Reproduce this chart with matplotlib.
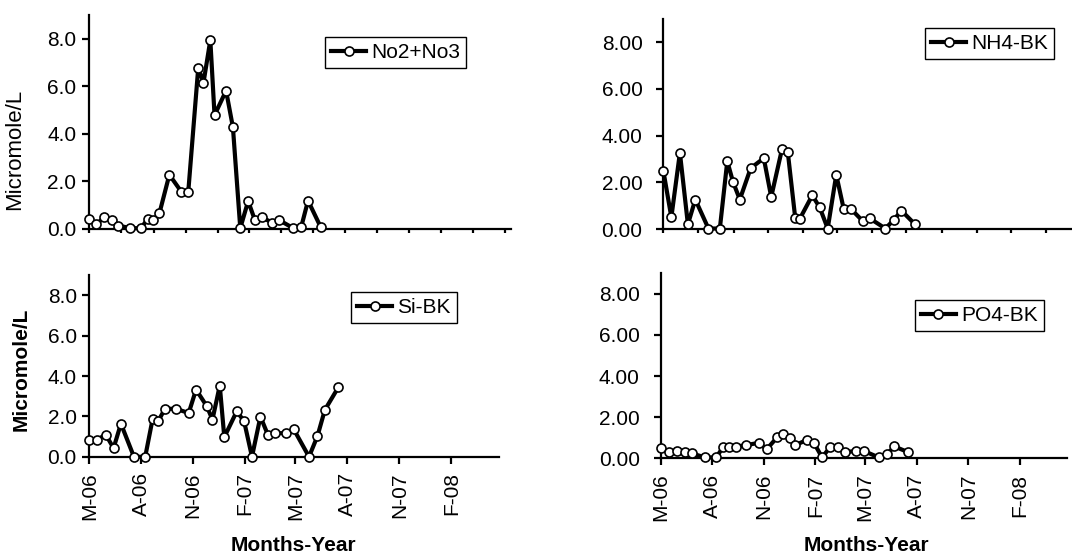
import numpy as np
import matplotlib
matplotlib.use('Agg')
import matplotlib.pyplot as plt
import matplotlib.dates as mdates
from matplotlib.ticker import FormatStrFormatter, FuncFormatter

# sampling dates (roughly every two weeks)
dates = np.array(['2006-05-01', '2006-05-15', '2006-05-30', '2006-06-13', '2006-06-26',
                  '2006-07-19', '2006-08-08', '2006-08-21', '2006-08-31', '2006-09-12',
                  '2006-10-01', '2006-10-24', '2006-11-06', '2006-11-25', '2006-12-05',
                  '2006-12-18', '2006-12-26', '2007-01-17', '2007-01-30', '2007-02-13',
                  '2007-02-28', '2007-03-13', '2007-03-26', '2007-04-15', '2007-04-28',
                  '2007-05-25', '2007-06-09', '2007-06-22', '2007-07-16'], dtype='datetime64[D]')

no2_no3 = [0.41, 0.18, 0.48, 0.36, 0.13, 0.02, 0.02, 0.42, 0.35, 0.64,
           2.27, 1.55, 1.55, 6.78, 6.15, 7.94, 4.78, 5.81, 4.27, 0.02,
           1.16, 0.35, 0.48, 0.25, 0.36, 0.02, 0.07, 1.18, 0.07]
nh4 = [2.50, 0.51, 3.27, 0.21, 1.27, 0.03, 0.03, 2.91, 2.03, 1.27,
       2.61, 3.04, 1.38, 3.44, 3.31, 0.50, 0.44, 1.45, 0.93, 0.03,
       2.33, 0.87, 0.86, 0.36, 0.46, 0.03, 0.40, 0.80, 0.21]
si = [0.84, 0.84, 1.10, 0.43, 1.64, 0.00, 0.00, 1.86, 1.77, 2.38,
      2.38, 2.17, 3.33, 2.51, 1.84, 3.53, 0.97, 2.25, 1.77, 0.00,
      1.99, 1.10, 1.17, 1.17, 1.36, 0.00, 1.03, 2.32, 3.45]
po4 = [0.50, 0.31, 0.36, 0.29, 0.24, 0.05, 0.05, 0.57, 0.57, 0.57,
       0.65, 0.76, 0.44, 1.03, 1.18, 0.97, 0.63, 0.90, 0.73, 0.05,
       0.57, 0.57, 0.31, 0.36, 0.37, 0.05, 0.21, 0.58, 0.31]

plt.rcParams['font.family'] = ['Liberation Sans', 'DejaVu Sans']
plt.rcParams['font.size'] = 15

fig = plt.figure(figsize=(10.72, 5.55), dpi=100)

# axes positions in figure fractions (top panels run wider, right ones clipped by edge)
ax_no3 = fig.add_axes([0.0830, 0.588, 0.394, 0.385])
ax_nh4 = fig.add_axes([0.6188, 0.587, 0.428, 0.379])
ax_si = fig.add_axes([0.0833, 0.177, 0.382, 0.327])
ax_po4 = fig.add_axes([0.6163, 0.174, 0.379, 0.334])

top_end = np.datetime64('2008-07-13')
bot_end = np.datetime64('2008-04-25')
start = np.datetime64('2006-05-01')


def month_label(x, pos):
    d = mdates.num2date(x)
    return d.strftime('%b')[0] + '-' + d.strftime('%y')


panels = [
    (ax_no3, no2_no3, 'No2+No3', (0.3032, 0.9333), '%.1f', True),
    (ax_nh4, nh4, 'NH4-BK', (0.8629, 0.9495), '%.2f', True),
    (ax_si, si, 'Si-BK', (0.3274, 0.4739), '%.1f', False),
    (ax_po4, po4, 'PO4-BK', (0.8535, 0.4595), '%.2f', False),
]

for ax, vals, name, leg_pos, fmt, is_top in panels:
    ax.plot(dates, vals, color='black', linewidth=3, marker='o', markersize=6.5,
            markerfacecolor='white', markeredgecolor='black', markeredgewidth=1.2,
            label=name, clip_on=False, zorder=3)
    ax.set_ylim(0, 9)
    ax.set_yticks([0, 2, 4, 6, 8])
    ax.yaxis.set_major_formatter(FormatStrFormatter(fmt))
    for side in ['top', 'right']:
        ax.spines[side].set_visible(False)
    for side in ['left', 'bottom']:
        ax.spines[side].set_linewidth(1.6)
    ax.tick_params(axis='y', direction='out', length=5, width=1.6, pad=4)
    if is_top:
        ax.set_xlim(start, top_end)
        ax.xaxis.set_major_locator(mdates.MonthLocator(bymonth=[1, 3, 5, 7, 9, 11]))
        ax.tick_params(axis='x', direction='out', length=3, width=1.6, labelbottom=False)
    else:
        ax.set_xlim(start, bot_end)
        ax.xaxis.set_major_locator(mdates.MonthLocator(bymonth=[2, 5, 8, 11]))
        ax.xaxis.set_major_formatter(FuncFormatter(month_label))
        ax.tick_params(axis='x', direction='out', length=5, width=1.6, pad=6,
                       labelrotation=90)
    leg = ax.legend(loc='upper left', bbox_to_anchor=leg_pos, bbox_transform=fig.transFigure,
                    borderaxespad=0, fancybox=False, framealpha=1, edgecolor='black',
                    handlelength=1.7, handletextpad=0.25, borderpad=0.28, fontsize=15)
    leg.get_frame().set_linewidth(1.0)

# right-hand tick labels sit a bit further from the axis
ax_nh4.tick_params(axis='y', pad=10)
ax_po4.tick_params(axis='y', pad=10)

# y axis titles
ax_no3.set_ylabel('Micromole/L', fontsize=16)
ax_no3.yaxis.set_label_coords(-0.150, 0.373)
ax_si.set_ylabel('Micromole/L', fontsize=15, fontweight='bold')
ax_si.yaxis.set_label_coords(-0.143, 0.483)

# x axis titles
fig.text(0.274, 0.018, 'Months-Year', ha='center', va='center', fontsize=15, fontweight='bold')
fig.text(0.808, 0.018, 'Months-Year', ha='center', va='center', fontsize=15, fontweight='bold')

fig.savefig('out.png', dpi=100)
